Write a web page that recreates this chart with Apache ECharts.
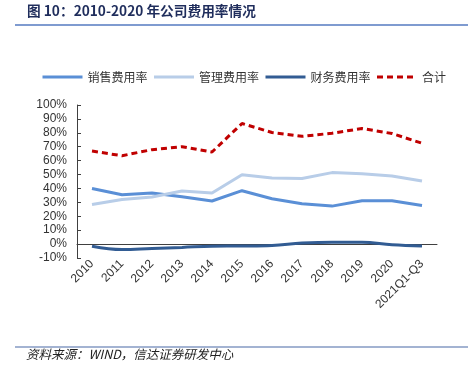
<!DOCTYPE html>
<html><head><meta charset="utf-8">
<script src="https://cdn.jsdelivr.net/npm/echarts@6/dist/echarts.min.js"></script>
<style>html,body{margin:0;padding:0;background:#fff}#c{width:468px;height:380px}</style>
</head><body><div id="c"></div>
<script>
const categories = ['2010','2011','2012','2013','2014','2015','2016','2017','2018','2019','2020','2021Q1-Q3'];
const salesRate = [40.0, 35.5, 36.7, 34.0, 31.0, 38.4, 32.6, 29.0, 27.3, 31.2, 31.2, 27.8];
const mgmtRate = [28.5, 32.1, 33.8, 38.2, 36.7, 49.8, 47.6, 47.1, 51.4, 50.5, 49.0, 45.4];
const finRate = [-1.5, -3.9, -3.1, -2.4, -1.5, -1.4, -1.0, 0.7, 1.4, 1.4, -0.5, -1.4];
const totalRate = [66.9, 63.5, 67.9, 70.0, 66.2, 86.7, 80.2, 77.5, 79.7, 83.1, 79.5, 72.5];
const seriesNames = ['销售费用率','管理费用率','财务费用率','合计'];
const titleText = '图 10：2010-2020 年公司费用率情况';
const sourceText = '资料来源：WIND，信达证券研发中心';

const chart = echarts.init(document.getElementById('c'));
const cjk = '"Noto Sans CJK SC", sans-serif';
chart.setOption({
  animation: false,
  backgroundColor: '#fff',
  graphic: [
    {type:'text', left:27, top:4, style:{text:titleText, font:'bold 13.7px "Noto Sans CJK SC", sans-serif', fill:'#1f2d5c'}},
    {type:'rect', shape:{x:15, y:24, width:453, height:2}, style:{fill:'#7f9bd0'}},
    {type:'rect', shape:{x:15, y:346, width:453, height:2}, style:{fill:'#a3b3d2'}},
    {type:'text', left:26, top:348, style:{text:sourceText, font:'italic 12.5px "Noto Sans CJK SC", sans-serif', fill:'#222'}}
  ],
  legend: {
    left: 36, top: 66, itemWidth: 40, itemHeight: 10, itemGap: 5,
    itemStyle: {opacity: 0},
    lineStyle: {width: 3},
    textStyle: {fontFamily: cjk, fontSize: 12, color: '#333'},
    data: seriesNames
  },
  grid: {left: 77, right: 31, top: 105, bottom: 122},
  xAxis: {
    type: 'category', data: categories, boundaryGap: true,
    axisLine: {onZero: true, lineStyle: {color: '#404040', width: 1}},
    axisTick: {inside: true, length: 4, lineStyle: {color: '#404040'}},
    axisLabel: {rotate: 45, margin: 4, fontSize: 12, color: '#333', fontFamily: 'Liberation Sans, Arial', interval: 0}
  },
  yAxis: {
    type: 'value', min: -10, max: 100, interval: 10,
    splitLine: {show: false},
    axisLine: {show: true, lineStyle: {color: '#404040'}},
    axisTick: {show: true, inside: true, length: 4, lineStyle: {color: '#404040'}},
    axisLabel: {formatter: '{value}%', fontSize: 12, color: '#333', fontFamily: 'Liberation Sans, Arial', margin: 10}
  },
  series: [
    {name: seriesNames[0], type: 'line', data: salesRate, symbol: 'none', lineStyle: {color: '#5a8fd6', width: 3}, itemStyle: {color: '#5a8fd6'}},
    {name: seriesNames[1], type: 'line', data: mgmtRate, symbol: 'none', lineStyle: {color: '#b8cde8', width: 3}, itemStyle: {color: '#b8cde8'}},
    {name: seriesNames[2], type: 'line', data: finRate, symbol: 'none', smooth: 0.4, lineStyle: {color: '#325c93', width: 3}, itemStyle: {color: '#325c93'}},
    {name: seriesNames[3], type: 'line', data: totalRate, symbol: 'none', lineStyle: {color: '#c00000', width: 3, type: [6, 4]}, itemStyle: {color: '#c00000'}}
  ]
});
</script></body></html>
